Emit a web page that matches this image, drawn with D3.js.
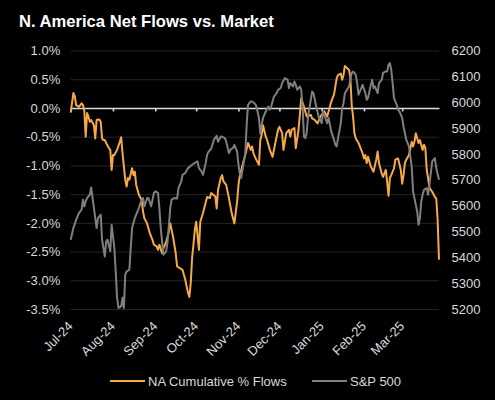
<!DOCTYPE html>
<html lang="en">
<head>
  <meta charset="UTF-8">
  <title>N. America Net Flows vs. Market</title>
  <script src="https://d3js.org/d3.v7.min.js"></script>
  <style>
    body { margin: 0; background: #000; }
    svg { display: block; font-family: "Liberation Sans", Arial, sans-serif; }
    .tick text { fill: #d9d9d9; font-size: 13px; }
  </style>
</head>
<body>
  <div id="chart"></div>

  <script>
    // NA cumulative % flows
    const flowDates = [
      "2024-07-01","2024-07-03","2024-07-04","2024-07-05","2024-07-07","2024-07-08","2024-07-09","2024-07-10","2024-07-11","2024-07-12",
      "2024-07-13","2024-07-14","2024-07-15","2024-07-16","2024-07-18","2024-07-19","2024-07-20","2024-07-22","2024-07-23","2024-07-24",
      "2024-07-25","2024-07-26","2024-07-27","2024-07-29","2024-07-30","2024-07-31",
      "2024-08-01","2024-08-02","2024-08-04","2024-08-06","2024-08-07","2024-08-08","2024-08-10","2024-08-11","2024-08-12","2024-08-13",
      "2024-08-15","2024-08-16","2024-08-17","2024-08-18","2024-08-20","2024-08-22","2024-08-23","2024-08-24","2024-08-26","2024-08-28",
      "2024-08-30","2024-08-31",
      "2024-09-02","2024-09-03","2024-09-04","2024-09-06","2024-09-07","2024-09-09","2024-09-11","2024-09-12","2024-09-14","2024-09-16",
      "2024-09-17","2024-09-19","2024-09-21","2024-09-23","2024-09-25","2024-09-26","2024-09-27","2024-09-28","2024-09-29","2024-09-30",
      "2024-10-01","2024-10-03","2024-10-04","2024-10-06","2024-10-08","2024-10-09","2024-10-11","2024-10-12","2024-10-15","2024-10-16",
      "2024-10-17","2024-10-19","2024-10-20","2024-10-21","2024-10-23","2024-10-25","2024-10-27","2024-10-29","2024-10-31",
      "2024-11-01","2024-11-02","2024-11-04","2024-11-06","2024-11-08","2024-11-10","2024-11-11","2024-11-12","2024-11-14","2024-11-16",
      "2024-11-17","2024-11-18","2024-11-19","2024-11-21","2024-11-22","2024-11-24","2024-11-26","2024-11-28","2024-11-30",
      "2024-12-01","2024-12-03","2024-12-04","2024-12-06","2024-12-08","2024-12-09","2024-12-10","2024-12-12","2024-12-13","2024-12-15",
      "2024-12-16","2024-12-17","2024-12-19","2024-12-21","2024-12-24","2024-12-25","2024-12-27","2024-12-29","2024-12-31",
      "2025-01-03","2025-01-05","2025-01-07","2025-01-08","2025-01-10","2025-01-11","2025-01-12","2025-01-13","2025-01-15","2025-01-16",
      "2025-01-17","2025-01-18","2025-01-19","2025-01-21","2025-01-22","2025-01-23","2025-01-24","2025-01-25","2025-01-26","2025-01-28",
      "2025-01-29","2025-01-31",
      "2025-02-01","2025-02-02","2025-02-03","2025-02-04","2025-02-06","2025-02-08","2025-02-10","2025-02-11","2025-02-12","2025-02-14",
      "2025-02-15","2025-02-17","2025-02-18","2025-02-19","2025-02-20","2025-02-21","2025-02-23","2025-02-24","2025-02-26","2025-02-28",
      "2025-03-01","2025-03-02","2025-03-03","2025-03-04","2025-03-06","2025-03-08","2025-03-09","2025-03-10","2025-03-11","2025-03-13",
      "2025-03-14","2025-03-16","2025-03-17","2025-03-18","2025-03-19","2025-03-20","2025-03-21","2025-03-23","2025-03-25","2025-03-26",
      "2025-03-27","2025-03-28"
    ];
    const flowPct = [
      -0.08, 0.26, 0.20, 0.05, 0.02, 0.05, 0.08, 0.05, -0.06, -0.50,
      -0.09, -0.15, -0.24, -0.21, -0.30, -0.53, -0.21, -0.20, -0.24, -0.53,
      -0.56, -0.56, -0.61, -0.70, -0.73, -1.08,
      -0.82, -0.82, -0.73, -0.59, -0.51, -0.79, -1.25, -1.37, -1.22, -1.25,
      -1.05, -1.17, -1.11, -1.34, -1.51, -1.60, -1.80, -1.92, -2.01, -2.18,
      -2.30, -2.38,
      -2.41, -2.47, -2.38, -2.53, -2.44, -2.33, -2.15, -2.01, -2.24, -2.53,
      -2.76, -2.79, -2.82, -2.99, -3.22, -3.29, -3.05, -2.61, -2.38, -2.12,
      -1.98, -2.47, -1.98, -1.83, -1.64, -1.55, -1.57, -1.48, -1.54, -1.75,
      -1.43, -1.22, -1.17, -1.28, -1.34, -1.57, -1.83, -2.01, -1.63,
      -1.34, -1.17, -0.99, -0.82, -0.61, -0.73, -0.67, -0.79, -0.90, -0.99,
      -0.56, -0.47, -0.30, -0.50, -0.56, -0.73, -0.85, -0.61, -0.38,
      -0.33, -0.44, -0.73, -0.44, -0.38, -0.50, -0.38, -0.35, -0.70, -0.38,
      -0.12, 0.17, 0.02, -0.15, -0.12, -0.18, -0.21, -0.27, -0.15,
      -0.06, -0.15, 0.02, 0.11, 0.23, 0.37, 0.52, 0.57, 0.60, 0.49,
      0.57, 0.73, 0.71, 0.66, 0.54, 0.05, -0.15, -0.44, -0.53, -0.61,
      -0.67, -0.79,
      -0.88, -0.82, -0.96, -0.85, -1.02, -1.11, -0.90, -0.76, -0.96, -1.14,
      -1.20, -1.08, -1.29, -1.53, -1.22, -1.17, -1.05, -0.90, -0.88, -1.08,
      -1.32, -1.17, -0.96, -0.90, -0.82, -0.59, -0.67, -0.59, -0.44, -0.61,
      -0.56, -0.73, -0.64, -0.70, -1.08, -1.22, -1.39, -1.46, -1.55, -1.58,
      -1.95, -2.64
    ];

    // S&P 500 level
    const spxDates = [
      "2024-07-01","2024-07-03","2024-07-05","2024-07-07","2024-07-09","2024-07-10","2024-07-11","2024-07-12","2024-07-13","2024-07-15",
      "2024-07-16","2024-07-18","2024-07-20","2024-07-21","2024-07-23","2024-07-24","2024-07-26","2024-07-27","2024-07-28","2024-07-30",
      "2024-07-31",
      "2024-08-02","2024-08-03","2024-08-04","2024-08-05","2024-08-07","2024-08-08","2024-08-09","2024-08-10","2024-08-11","2024-08-13",
      "2024-08-14","2024-08-15","2024-08-17","2024-08-20","2024-08-22","2024-08-23","2024-08-24","2024-08-26","2024-08-27","2024-08-29",
      "2024-08-31",
      "2024-09-01","2024-09-03","2024-09-04","2024-09-05","2024-09-07","2024-09-09","2024-09-10","2024-09-12","2024-09-13","2024-09-15",
      "2024-09-17","2024-09-18","2024-09-20","2024-09-21","2024-09-23","2024-09-25","2024-09-28","2024-09-30",
      "2024-10-02","2024-10-03","2024-10-05","2024-10-06","2024-10-08","2024-10-09","2024-10-10","2024-10-12","2024-10-14","2024-10-16",
      "2024-10-17","2024-10-19","2024-10-20","2024-10-22","2024-10-23","2024-10-25","2024-10-26","2024-10-28","2024-10-29","2024-10-31",
      "2024-11-01","2024-11-02","2024-11-03","2024-11-04","2024-11-06","2024-11-07","2024-11-08","2024-11-10","2024-11-11","2024-11-13",
      "2024-11-14","2024-11-16","2024-11-17","2024-11-18","2024-11-19","2024-11-21","2024-11-22","2024-11-23","2024-11-24","2024-11-25",
      "2024-11-26","2024-11-27","2024-11-29","2024-11-30",
      "2024-12-02","2024-12-03","2024-12-05","2024-12-07","2024-12-08","2024-12-09","2024-12-11","2024-12-12","2024-12-13","2024-12-14",
      "2024-12-16","2024-12-17","2024-12-18","2024-12-19","2024-12-20","2024-12-21","2024-12-22","2024-12-24","2024-12-25","2024-12-26",
      "2024-12-28","2024-12-30",
      "2025-01-01","2025-01-02","2025-01-05","2025-01-06","2025-01-08","2025-01-10","2025-01-11","2025-01-12","2025-01-13","2025-01-15",
      "2025-01-16","2025-01-17","2025-01-18","2025-01-21","2025-01-22","2025-01-23","2025-01-24","2025-01-26","2025-01-27","2025-01-28",
      "2025-01-29","2025-01-31",
      "2025-02-02","2025-02-03","2025-02-04","2025-02-06","2025-02-07","2025-02-08","2025-02-09","2025-02-10","2025-02-11","2025-02-12",
      "2025-02-14","2025-02-15","2025-02-17","2025-02-18","2025-02-19","2025-02-20","2025-02-21","2025-02-22","2025-02-23","2025-02-24",
      "2025-02-25","2025-02-26","2025-02-27",
      "2025-03-01","2025-03-02","2025-03-03","2025-03-04","2025-03-06","2025-03-07","2025-03-08","2025-03-09","2025-03-11","2025-03-12",
      "2025-03-13","2025-03-14","2025-03-15","2025-03-16","2025-03-17","2025-03-19","2025-03-20","2025-03-21","2025-03-23","2025-03-25",
      "2025-03-26","2025-03-28"
    ];
    const spxClose = [
      5468, 5514, 5545, 5571, 5584, 5623, 5597, 5616, 5629, 5642,
      5670, 5591, 5513, 5552, 5565, 5468, 5403, 5461, 5468, 5423,
      5526,
      5436, 5345, 5243, 5204, 5210, 5244, 5204, 5333, 5345, 5352,
      5436, 5513, 5552, 5591, 5623, 5629, 5597, 5629, 5629, 5597,
      5649,
      5655, 5649, 5591, 5513, 5410, 5423, 5461, 5591, 5623, 5629,
      5627, 5668, 5693, 5719, 5726, 5745, 5758, 5765,
      5771, 5745, 5731, 5719, 5765, 5797, 5808, 5820, 5855, 5870,
      5847, 5867, 5866, 5861, 5848, 5803, 5816, 5823, 5835, 5809,
      5758, 5723, 5707, 5739, 5803, 5913, 5990, 6003, 6003, 5994,
      5986, 5940, 5878, 5913, 5939, 5964, 5977, 5983, 5971, 5983,
      6003, 6022, 6035, 6048,
      6055, 6074, 6093, 6087, 6055, 6074, 6061, 6080, 6067, 6048,
      6061, 6048, 5983, 5867, 5861, 5881, 5945, 6009, 6041, 6035,
      5983, 5939,
      5919, 5964, 5919, 5940, 5887, 5855, 5835, 5829, 5861, 5919,
      5977, 5997, 6035, 6061, 6087, 6113, 6119, 6106, 6074, 6029,
      6041, 6067,
      6035, 6009, 6017, 6067, 6087, 6055, 6061, 6048, 6035, 6074,
      6087, 6113, 6119, 6119, 6145, 6151, 6125, 6074, 6016, 6003,
      5990, 5971, 5964,
      5939, 5906, 5881, 5855, 5829, 5790, 5751, 5655, 5603, 5577,
      5526, 5552, 5616, 5642, 5661, 5668, 5642, 5681, 5771, 5784,
      5745, 5700
    ];

    const pctTicks = [1.0, 0.5, 0.0, -0.5, -1.0, -1.5, -2.0, -2.5, -3.0, -3.5];
    const spxTicks = [6200, 6100, 6000, 5900, 5800, 5700, 5600, 5500, 5400, 5300, 5200];
    const monthTicks = ["2024-07-01","2024-08-01","2024-09-01","2024-10-01","2024-11-01","2024-12-01","2025-01-01","2025-02-01","2025-03-01"];
    const monthLabels = ["Jul-24","Aug-24","Sep-24","Oct-24","Nov-24","Dec-24","Jan-25","Feb-25","Mar-25"];

    const W = 495, H = 400;
    const margin = {top: 50.5, right: 56, bottom: 91, left: 70.7},
          width = W - margin.left - margin.right,
          height = H - margin.top - margin.bottom;

    const parse = d3.timeParse("%Y-%m-%d");
    const flows = flowDates.map((d, i) => ({date: parse(d), value: flowPct[i]}));
    const spx = spxDates.map((d, i) => ({date: parse(d), value: spxClose[i]}));
    const months = monthTicks.map(parse);

    const svg = d3.select("#chart").append("svg")
                  .attr("width", W)
                  .attr("height", H);

    svg.append("rect").attr("width", W).attr("height", H).attr("fill", "#000");

    svg.append("text")
       .attr("x", 19)
       .attr("y", 27)
       .attr("fill", "#fff")
       .attr("font-size", "16.6px")
       .attr("font-weight", "bold")
       .text("N. America Net Flows vs. Market");

    const g = svg.append("g").attr("transform", `translate(${margin.left},${margin.top})`);

    const x = d3.scaleTime().domain([parse("2024-07-01"), parse("2025-03-28")]).range([0, width]);
    const yL = d3.scaleLinear().domain([-3.5, 1.0]).range([height, 0]);
    const yR = d3.scaleLinear().domain([5200, 6200]).range([height, 0]);

    // gridlines
    g.append("g")
     .call(d3.axisLeft(yL).tickValues(pctTicks).tickSize(-width).tickFormat(""))
     .call(a => a.select(".domain").remove())
     .call(a => a.selectAll("line").attr("stroke", "#252525").attr("stroke-width", 1));

    // left axis labels
    g.append("g")
     .call(d3.axisLeft(yL).tickValues(pctTicks).tickSize(0).tickPadding(10.5).tickFormat(d => d.toFixed(1) + "%"))
     .call(a => a.select(".domain").remove());

    // right axis labels (no thousands separator)
    g.append("g")
     .attr("transform", `translate(${width},0)`)
     .call(d3.axisRight(yR).tickValues(spxTicks).tickSize(0).tickPadding(12.5).tickFormat(d3.format("d")))
     .call(a => a.select(".domain").remove());

    // zero line with month ticks
    g.append("g")
     .attr("transform", `translate(0,${yL(0)})`)
     .call(d3.axisBottom(x).tickValues(months).tickSize(3.5).tickSizeOuter(0).tickFormat(""))
     .call(a => a.select(".domain").attr("stroke", "#d9d9d9").attr("stroke-width", 1.6))
     .call(a => a.selectAll(".tick line").attr("stroke", "#d9d9d9").attr("stroke-width", 1.6));

    // rotated month labels
    g.selectAll(".month-label")
     .data(months)
     .enter().append("text")
     .attr("class", "month-label")
     .attr("transform", d => `translate(${x(d) + 3},${height + 18}) rotate(-45)`)
     .attr("text-anchor", "end")
     .attr("fill", "#d9d9d9")
     .attr("font-size", "13px")
     .text((d, i) => monthLabels[i]);

    const flowLine = d3.line().x(d => x(d.date)).y(d => yL(d.value));
    const spxLine = d3.line().x(d => x(d.date)).y(d => yR(d.value));

    g.append("path")
     .datum(flows)
     .attr("fill", "none")
     .attr("stroke", "#f5a947")
     .attr("stroke-width", 2)
     .attr("stroke-linejoin", "round")
     .attr("d", flowLine);

    g.append("path")
     .datum(spx)
     .attr("fill", "none")
     .attr("stroke", "#7f7f7f")
     .attr("stroke-width", 2)
     .attr("stroke-linejoin", "round")
     .attr("d", spxLine);

    // legend
    const legend = svg.append("g").attr("font-size", "13px").attr("fill", "#d9d9d9");
    const items = [
      {label: "NA Cumulative % Flows", color: "#f5a947", x: 110},
      {label: "S&P 500", color: "#7f7f7f", x: 312}
    ];
    items.forEach(it => {
      legend.append("line")
            .attr("x1", it.x).attr("x2", it.x + 35)
            .attr("y1", 381).attr("y2", 381)
            .attr("stroke", it.color).attr("stroke-width", 2);
      legend.append("text")
            .attr("x", it.x + 38)
            .attr("y", 385.5)
            .text(it.label);
    });
  </script>
</body>
</html>
